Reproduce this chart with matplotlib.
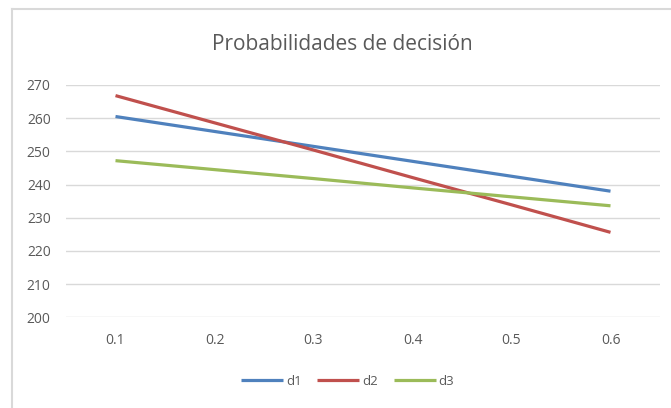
"""Line chart: Probabilidades de decisión."""

import matplotlib

matplotlib.use("Agg")
import matplotlib.pyplot as plt
from matplotlib.lines import Line2D

# Values
probabilities = ["0.1", "0.2", "0.3", "0.4", "0.5", "0.6"]
d1 = [260.5, 256.0, 251.5, 247.0, 242.5, 238.0]
d2 = [266.8, 258.6, 250.4, 242.1, 233.9, 225.6]
d3 = [247.2, 244.5, 241.8, 239.0, 236.3, 233.6]
y_ticks = [200, 210, 220, 230, 240, 250, 260, 270]

SERIES = [("d1", d1, "#4F81BD"), ("d2", d2, "#C0504D"), ("d3", d3, "#9BBB59")]
TEXT_COLOR = "#595959"
GRID_COLOR = "#D9D9D9"

plt.rcParams["font.family"] = ["Open Sans", "DejaVu Sans"]

fig = plt.figure(figsize=(6.71, 4.08), dpi=100)
ax = fig.add_axes([66 / 671, 0.2223, 594 / 671, 0.5694])

x = range(len(probabilities))
for name, values, color in SERIES:
    ax.plot(x, values, color=color, linewidth=2.3, label=name,
            solid_capstyle="butt")

ax.set_xlim(-0.5, len(probabilities) - 0.5)
ax.set_ylim(200, 270)
ax.set_yticks(y_ticks)
ax.set_xticks(list(x))
ax.set_xticklabels(probabilities)
ax.grid(axis="y", color=GRID_COLOR, linewidth=1)
ax.set_axisbelow(True)
for side in ("top", "right", "left", "bottom"):
    ax.spines[side].set_visible(False)
ax.tick_params(length=0, colors=TEXT_COLOR, labelsize=10)
ax.tick_params(axis="x", pad=11)
ax.tick_params(axis="y", pad=11)

fig.text(0.51, 0.89, "Probabilidades de decisión", ha="center",
         va="center", fontsize=15, color=TEXT_COLOR)

fig.legend(loc="center", bbox_to_anchor=(0.518, 0.066), ncol=3,
           frameon=False, fontsize=9.5, labelcolor=TEXT_COLOR,
           handlelength=3.2, handletextpad=0.2, columnspacing=1.2)

# Light chart border on the top and left edges
fig.add_artist(Line2D([11.5 / 671, 1], [1 - 8.5 / 408] * 2,
                      transform=fig.transFigure, color=GRID_COLOR,
                      linewidth=1.5))
fig.add_artist(Line2D([11.5 / 671] * 2, [0, 1 - 8.5 / 408],
                      transform=fig.transFigure, color=GRID_COLOR,
                      linewidth=1.5))

plt.savefig("out.png", dpi=100)
plt.close()
